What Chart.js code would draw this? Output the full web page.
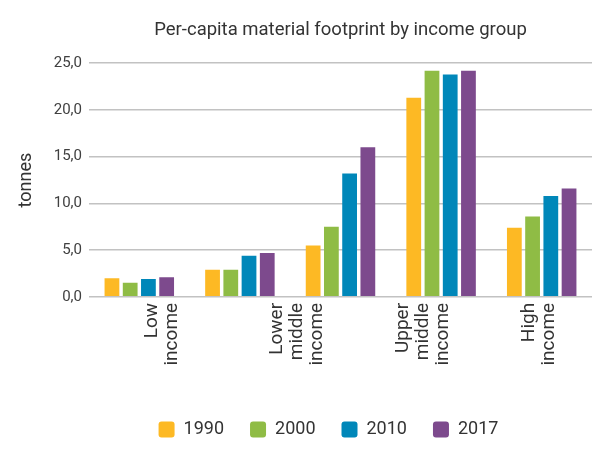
<!DOCTYPE html>
<html>
<head>
<meta charset="utf-8">
<script src="https://cdn.jsdelivr.net/npm/chart.js@4"></script>
<style>
  html, body { margin: 0; padding: 0; background: #fff; }
  #wrap { width: 604px; height: 450px; }
</style>
</head>
<body>
<div id="wrap"><canvas id="footprintChart"></canvas></div>
<script>
let groups = ['Low income', 'Lower middle income', 'Upper middle income', 'High income', 'World'];
let tickLabels = [['Low', 'income'], ['Lower', 'middle', 'income'], ['Upper', 'middle', 'income'], ['High', 'income']];
let years = ['1990', '2000', '2010', '2017'];
let v1990 = [2.0, 2.9, 5.5, 21.3, 7.4];
let v2000 = [1.5, 2.9, 7.5, 24.2, 8.6];
let v2010 = [1.9, 4.4, 13.2, 23.8, 10.8];
let v2017 = [2.1, 4.7, 16.0, 24.2, 11.6];
let colors = ['#FDB924', '#8FBC45', '#0087B9', '#7D4A8D'];

Chart.defaults.font.family = 'Roboto';
Chart.defaults.color = '#333';

// legend sits a bit left of the plot centre in the original
let legendShift = {
    id: 'legendShift',
    afterLayout(chart) {
        chart.legend.left -= 12;
        chart.legend.right -= 12;
    }
};

let footprintChart = new Chart(document.getElementById('footprintChart'), {
    type: 'bar',
    data: {
        labels: groups,
        datasets: [v1990, v2000, v2010, v2017].map((vals, i) => ({
            label: years[i],
            data: vals,
            backgroundColor: colors[i],
            categoryPercentage: 0.725,
            barPercentage: 0.81
        }))
    },
    options: {
        responsive: true,
        maintainAspectRatio: false,
        animation: false,
        layout: { padding: { left: 12, right: 12, top: 0, bottom: 1.5 } },
        plugins: {
            title: {
                display: true,
                text: 'Per-capita material footprint by income group',
                fullSize: false,
                color: '#333',
                font: { size: 18.5, weight: 'normal' },
                padding: { top: 19, bottom: 22 }
            },
            legend: {
                position: 'bottom',
                fullSize: false,
                labels: {
                    boxWidth: 16,
                    boxHeight: 16,
                    padding: 26,
                    color: '#333',
                    font: { size: 18 },
                    useBorderRadius: true,
                    borderRadius: 3
                }
            },
            tooltip: { enabled: false }
        },
        scales: {
            x: { display: false },
            x2: {
                type: 'category',
                labels: tickLabels,
                position: 'bottom',
                offset: true,
                grid: { display: false, drawTicks: false },
                border: { display: false },
                ticks: {
                    autoSkip: false,
                    minRotation: 90,
                    maxRotation: 90,
                    padding: 6,
                    color: '#333',
                    font: { size: 19, lineHeight: 1.05 }
                },
                afterFit: s => { s.height += 23; }
            },
            y: {
                min: 0,
                max: 25,
                ticks: {
                    stepSize: 5,
                    padding: 7,
                    color: '#404040',
                    font: { size: 15 },
                    callback: v => v.toFixed(1).replace('.', ',')
                },
                grid: { color: '#c2c2c2', lineWidth: 1.5, drawTicks: false },
                border: { display: false },
                title: { display: true, text: 'tonnes', color: '#333', font: { size: 18 }, padding: 4 },
                afterFit: s => { s.width = 77; }
            }
        }
    },
    plugins: [legendShift]
});
</script>
</body>
</html>
